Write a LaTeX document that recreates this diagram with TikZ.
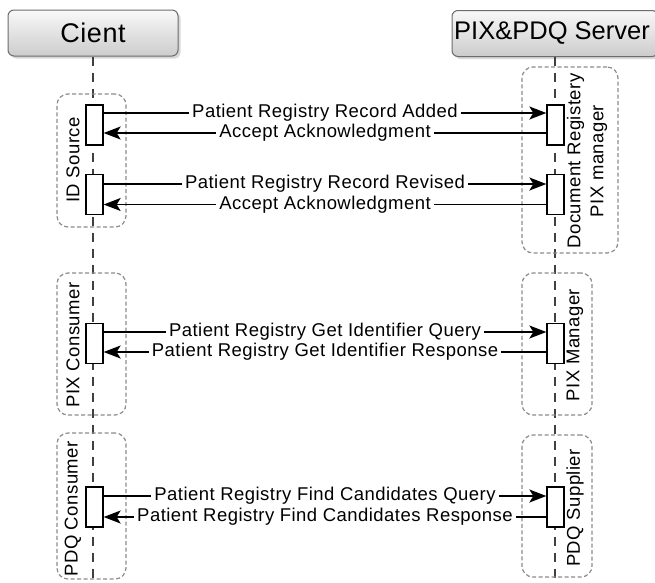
\documentclass[tikz,border=0pt]{standalone}
\usepackage{fontspec}
\setmainfont{Liberation Sans}
\newfontfamily\msgfont[LetterSpace=2.5]{Liberation Sans}
\newfontfamily\hdfont[LetterSpace=2]{Liberation Sans}
\usetikzlibrary{arrows.meta,shadows}
\begin{document}
\begin{tikzpicture}[x=1pt,y=-1pt,
  header/.style={draw=gray!85!black, line width=1pt, rounded corners=6pt,
    top color=gray!5, bottom color=gray!40,
    drop shadow={shadow xshift=2.5pt, shadow yshift=-2.5pt, fill=gray!60, opacity=0.5},
    inner sep=0pt, minimum height=46pt},
  life/.style={draw=black!75, line width=1.3pt, dash pattern=on 9pt off 7pt},
  grp/.style={draw=gray!90, line width=1.2pt, dash pattern=on 4pt off 2.5pt, rounded corners=11pt, inner sep=0pt},
  grplabel/.style={rotate=90, font=\msgfont\fontsize{18.5}{23}\selectfont, align=center, inner sep=0pt},
  act/.style={draw=black, line width=1.3pt, fill=white, minimum width=17pt, minimum height=40pt, inner sep=0pt},
  msg/.style={draw=black, line width=1.5pt, -{Stealth[length=17pt,width=13pt,inset=4pt]}},
  msgtext/.style={fill=white, inner xsep=3pt, inner ysep=0pt, font=\msgfont\fontsize{18.5}{20}\selectfont},
]
\useasboundingbox (0,0) rectangle (655,582);
\fill[white] (0,0) rectangle (655,582);

% headers
\node[header, minimum width=170pt, font=\hdfont\fontsize{27}{30}\selectfont] (client) at (93,33) {Cient};
\node[header, minimum width=206pt] (server) at (555,33.5) {};
\node[font=\fontsize{25.5}{30}\selectfont, inner sep=0pt] (servertext) at (552,33.5) {PIX\&PDQ Server};

% lifelines
\coordinate (cend) at (93,582);
\coordinate (send) at (555,582);
\draw[life] (client.south) -- (cend);
\draw[life] (server.south) -- (send);

% groups (client side)
\node[grp, minimum width=69pt, minimum height=133pt] (gid) at (91.5,160.5) {};
\node[grp, minimum width=69pt, minimum height=142pt] (gpixc) at (91.5,344) {};
\node[grp, minimum width=69pt, minimum height=146pt] (gpdqc) at (91.5,506) {};
% groups (server side)
\node[grp, minimum width=96pt, minimum height=186pt] (gdoc) at (570,160) {};
\node[grp, minimum width=70pt, minimum height=142pt] (gpixm) at (557,344) {};
\node[grp, minimum width=70pt, minimum height=142pt] (gpdqs) at (557,506) {};

% group labels
\node[grplabel] (lid) at (73,160) {ID Source};
\node[grplabel] (lpixc) at (73,345) {PIX Consumer};
\node[grplabel] (lpdqc) at (73,509) {PDQ Consumer};
\node[grplabel] (ldoc) at (587,161) {Document Registery\\PIX manager};
\node[grplabel] (lpixm) at (575,345) {PIX Manager};
\node[grplabel] (lpdqs) at (575,508) {PDQ Supplier};

% activation boxes
\node[act] (c1) at (94.5,125) {};
\node[act] (s1) at (555.5,125) {};
\node[act] (c2) at (94.5,194.5) {};
\node[act] (s2) at (555.5,194.5) {};
\node[act] (c3) at (94.5,343.5) {};
\node[act] (s3) at (555.5,343.5) {};
\node[act] (c4) at (94.5,507) {};
\node[act] (s4) at (555.5,507) {};

% messages
\draw[msg] ([yshift=12pt]c1.east) -- node[msgtext]{Patient Registry Record Added} ([yshift=12pt]s1.west);
\draw[msg] ([yshift=-8pt]s1.west) -- node[msgtext]{Accept Acknowledgment} ([yshift=-8pt]c1.east);
\draw[msg] ([yshift=10.5pt]c2.east) -- node[msgtext]{Patient Registry Record Revised} ([yshift=10.5pt]s2.west);
\draw[msg] ([yshift=-10pt]s2.west) -- node[msgtext]{Accept Acknowledgment} ([yshift=-10pt]c2.east);
\draw[msg] ([yshift=11.5pt]c3.east) -- node[msgtext]{Patient Registry Get Identifier Query} ([yshift=11.5pt]s3.west);
\draw[msg] ([yshift=-8.5pt]s3.west) -- node[msgtext]{Patient Registry Get Identifier Response} ([yshift=-8.5pt]c3.east);
\draw[msg] ([yshift=11pt]c4.east) -- node[msgtext]{Patient Registry Find Candidates Query} ([yshift=11pt]s4.west);
\draw[msg] ([yshift=-10pt]s4.west) -- node[msgtext]{Patient Registry Find Candidates Response} ([yshift=-10pt]c4.east);
\end{tikzpicture}
\end{document}
